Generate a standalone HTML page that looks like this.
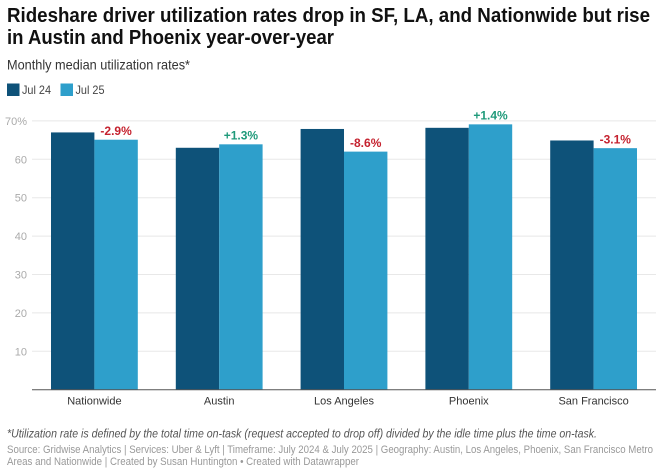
<!DOCTYPE html>
<html lang="en">
<head>
<meta charset="utf-8">
<title>Rideshare driver utilization rates</title>
<style>
html,body{margin:0;padding:0;background:#fff;width:667px;height:473px;overflow:hidden}
svg{display:block;font-family:"Liberation Sans",Arial,sans-serif}
</style>
</head>
<body>
<svg id="chart" width="667" height="473" viewBox="0 0 667 473" xmlns="http://www.w3.org/2000/svg">
  <rect width="667" height="473" fill="#fff"/>
  <text x="7" y="22" font-size="20" font-weight="700" fill="#111" textLength="643" lengthAdjust="spacingAndGlyphs">Rideshare driver utilization rates drop in SF, LA, and Nationwide but rise</text>
  <text x="7" y="44" font-size="20" font-weight="700" fill="#111" textLength="327" lengthAdjust="spacingAndGlyphs">in Austin and Phoenix year-over-year</text>
  <text x="7" y="69.5" font-size="14" fill="#333" textLength="183" lengthAdjust="spacingAndGlyphs">Monthly median utilization rates*</text>

  <g>
    <rect x="7" y="83.5" width="12.5" height="12.5" fill="#0e5279"/>
    <text x="22" y="94" font-size="12" fill="#444" textLength="29" lengthAdjust="spacingAndGlyphs">Jul 24</text>
    <rect x="60.5" y="83.5" width="12.5" height="12.5" fill="#2e9fcb"/>
    <text x="75.5" y="94" font-size="12" fill="#444" textLength="29" lengthAdjust="spacingAndGlyphs">Jul 25</text>
  </g>

  <g id="grid"></g>
  <g id="bars"></g>
  <g id="xlabels"></g>
  <g id="deltas"></g>

  <text x="7" y="437.5" font-size="12" font-style="italic" fill="#555" textLength="590" lengthAdjust="spacingAndGlyphs">*Utilization rate is defined by the total time on-task (request accepted to drop off) divided by the idle time plus the time on-task.</text>
  <text x="7" y="453" font-size="11" fill="#999" textLength="646" lengthAdjust="spacingAndGlyphs">Source: Gridwise Analytics | Services: Uber &amp; Lyft | Timeframe: July 2024 &amp; July 2025 | Geography: Austin, Los Angeles, Phoenix, San Francisco Metro</text>
  <text x="7" y="465" font-size="11" fill="#999" textLength="352" lengthAdjust="spacingAndGlyphs">Areas and Nationwide | Created by Susan Huntington • Created with Datawrapper</text>
</svg>
<script>
const categories = ["Nationwide", "Austin", "Los Angeles", "Phoenix", "San Francisco"];
const jul24 = [67, 63, 67.9, 68.2, 64.9];
const jul25 = [65.1, 63.9, 62, 69.1, 62.9];
const changeLabels = ["-2.9%", "+1.3%", "-8.6%", "+1.4%", "-3.1%"];
const yTicks = [10, 20, 30, 40, 50, 60, 70];

const NS = "http://www.w3.org/2000/svg";
const plotLeft = 32, plotRight = 656, baseY = 389.7, unitY = 3.84;
const barW = 43.4;
const step = (plotRight - plotLeft) / categories.length;
const xCenter = i => plotLeft + step * (i + 0.5);
const yPos = v => baseY - v * unitY;

const grid = document.getElementById("grid");
const bars = document.getElementById("bars");
const xlabels = document.getElementById("xlabels");
const deltas = document.getElementById("deltas");

yTicks.forEach(t => {
  const line = document.createElementNS(NS, "line");
  
  
  line.setAttribute("x1", plotLeft);
  line.setAttribute("x2", plotRight);
  line.setAttribute("y1", yPos(t));
  line.setAttribute("y2", yPos(t));
  line.setAttribute("stroke", "#e8e8e8");
  line.setAttribute("stroke-width", "1");
  grid.appendChild(line);

  const label = document.createElementNS(NS, "text");
  
  
  label.setAttribute("x", 27);
  label.setAttribute("y", yPos(t) + 4);
  label.setAttribute("text-anchor", "end");
  label.setAttribute("font-size", "11");
  label.setAttribute("fill", "#aaa");
  label.textContent = t === 70 ? t + "%" : String(t);
  grid.appendChild(label);
});

categories.forEach((c, i) => {
  const cx = xCenter(i);

  const b1 = document.createElementNS(NS, "rect");
  
  
  b1.setAttribute("x", cx - barW);
  b1.setAttribute("y", yPos(jul24[i]));
  b1.setAttribute("width", barW);
  b1.setAttribute("height", baseY - yPos(jul24[i]));
  b1.setAttribute("fill", "#0e5279");
  bars.appendChild(b1);

  const b2 = document.createElementNS(NS, "rect");
  
  
  b2.setAttribute("x", cx);
  b2.setAttribute("y", yPos(jul25[i]));
  b2.setAttribute("width", barW);
  b2.setAttribute("height", baseY - yPos(jul25[i]));
  b2.setAttribute("fill", "#2e9fcb");
  bars.appendChild(b2);

  const xl = document.createElementNS(NS, "text");
  
  
  xl.setAttribute("x", cx);
  xl.setAttribute("y", 404.5);
  xl.setAttribute("text-anchor", "middle");
  xl.setAttribute("font-size", "11");
  xl.setAttribute("fill", "#333");
  xl.textContent = c;
  xlabels.appendChild(xl);

  const d = document.createElementNS(NS, "text");
  
  
  d.setAttribute("x", cx + barW / 2);
  d.setAttribute("y", yPos(jul25[i]) - 4.7);
  d.setAttribute("text-anchor", "middle");
  d.setAttribute("font-size", "12");
  d.setAttribute("font-weight", "700");
  d.setAttribute("fill", changeLabels[i].charAt(0) === "+" ? "#1f9a7a" : "#c5222f");
  d.textContent = changeLabels[i];
  deltas.appendChild(d);
});

const axis = document.createElementNS(NS, "line");


axis.setAttribute("x1", plotLeft);
axis.setAttribute("x2", plotRight);
axis.setAttribute("y1", baseY);
axis.setAttribute("y2", baseY);
axis.setAttribute("stroke", "#555");
axis.setAttribute("stroke-width", "1");
bars.appendChild(axis);
</script>
</body>
</html>
